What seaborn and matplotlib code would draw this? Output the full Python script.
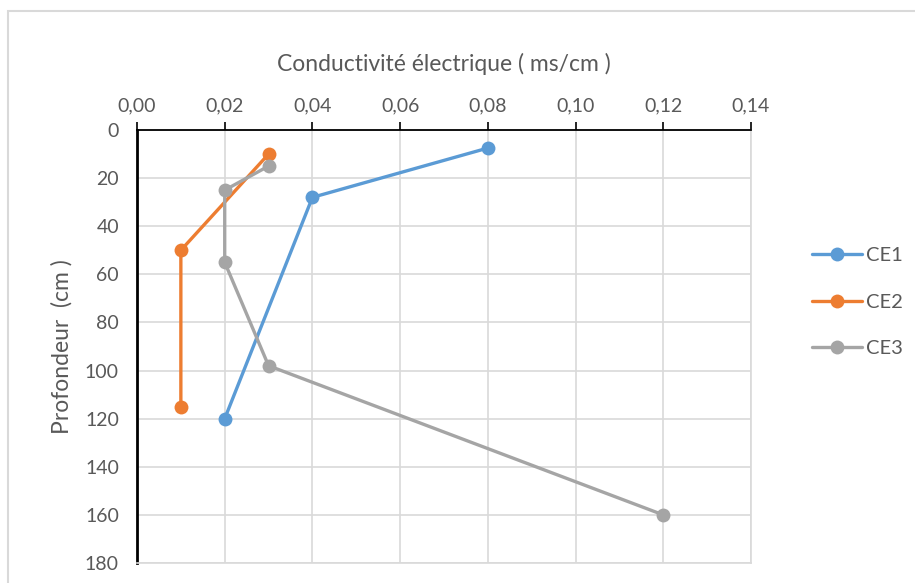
import matplotlib
matplotlib.use("Agg")
import matplotlib.pyplot as plt
from matplotlib.patches import Rectangle
import seaborn as sns
import pandas as pd

# Conductivity profiles (mS/cm) against depth (cm)
ce1_cond = [0.08, 0.04, 0.02]
ce1_depth = [7.5, 28, 120]
ce2_cond = [0.03, 0.01, 0.01]
ce2_depth = [10, 50, 115]
ce3_cond = [0.03, 0.02, 0.02, 0.03, 0.12]
ce3_depth = [15, 25, 55, 98, 160]

series_names = ["CE1", "CE2", "CE3"]
series_colors = ["#5B9BD5", "#ED7D31", "#A5A5A5"]

x_ticks = [0.00, 0.02, 0.04, 0.06, 0.08, 0.10, 0.12, 0.14]
y_ticks = [0, 20, 40, 60, 80, 100, 120, 140, 160, 180]

frames = []
for name, xs, ys in zip(series_names,
                        [ce1_cond, ce2_cond, ce3_cond],
                        [ce1_depth, ce2_depth, ce3_depth]):
    frames.append(pd.DataFrame({"serie": name, "cond": xs, "depth": ys}))
df = pd.concat(frames, ignore_index=True)

sns.set_theme(style="white")
plt.rcParams["font.family"] = ["Lato", "DejaVu Sans"]
text_color = "#595959"
grid_color = "#D9D9D9"

fig = plt.figure(figsize=(9.15, 5.83), dpi=100)
ax = fig.add_axes([137 / 915, 1 - 563 / 583, (751 - 137) / 915, (563 - 130) / 583])

sns.lineplot(data=df, x="cond", y="depth", hue="serie", sort=False,
             estimator=None, units="serie", palette=series_colors,
             marker="o", markersize=10, markeredgewidth=0, linewidth=2.4,
             ax=ax)

ax.set_xlim(0, 0.14)
ax.set_ylim(180, 0)
ax.set_xticks(x_ticks)
ax.set_yticks(y_ticks)
ax.set_xticklabels([f"{v:.2f}".replace(".", ",") for v in x_ticks])
ax.set_yticklabels([str(v) for v in y_ticks])

ax.xaxis.tick_top()
ax.xaxis.set_label_position("top")
ax.tick_params(axis="both", direction="out", length=6, width=1.2, color="black",
               labelsize=14, labelcolor=text_color)
ax.tick_params(axis="x", pad=5)
ax.tick_params(axis="y", pad=7)

ax.grid(True, color=grid_color, linewidth=1.2)
ax.set_axisbelow(True)

for side in ["right", "bottom"]:
    ax.spines[side].set_color(grid_color)
    ax.spines[side].set_linewidth(1.2)
ax.spines["top"].set_color("black")
ax.spines["top"].set_linewidth(1.3)
ax.spines["left"].set_color("black")
ax.spines["left"].set_linewidth(2)

ax.set_xlabel("Conductivité électrique ( ms/cm )", fontsize=16.5,
              color=text_color, labelpad=19)
ax.set_ylabel("Profondeur  (cm )", fontsize=16.5, color=text_color, labelpad=9)

handles, labels = ax.get_legend_handles_labels()
ax.legend(handles, labels, loc="center left", bbox_to_anchor=(812 / 915, 1 - 302 / 583),
          bbox_transform=fig.transFigure, frameon=False, fontsize=14.5,
          labelcolor=text_color, handlelength=2.5, handletextpad=0.2,
          labelspacing=1.45, borderpad=0, borderaxespad=0)

# Chart-area frame along the top and left edges
fig.add_artist(Rectangle((8 / 915, -0.2), 1.2, 1.2 - 11 / 583,
                         transform=fig.transFigure, fill=False,
                         edgecolor=grid_color, linewidth=1.5, clip_on=False))

fig.savefig("out.png", dpi=100)
